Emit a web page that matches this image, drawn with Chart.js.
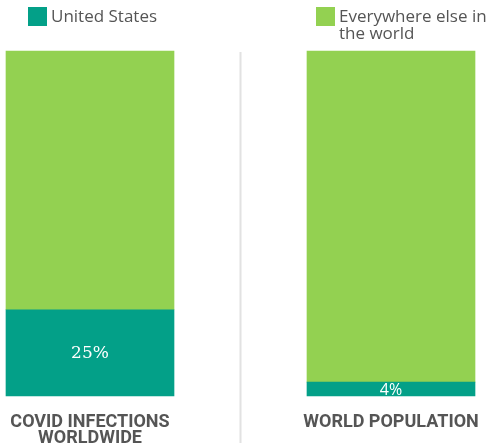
<!DOCTYPE html>
<html lang="en">
<head>
    <meta charset="UTF-8">
    <title>US share of COVID infections vs world population</title>
    <script src="https://cdn.jsdelivr.net/npm/chart.js"></script>
    <style>
        html, body { margin: 0; padding: 0; background: #fff; }
        #wrap { position: relative; width: 492px; height: 446px; }
    </style>
</head>
<body>
    <div id="wrap">
        <canvas id="chart"></canvas>
    </div>

    <script>
    // categories and shares (percent)
    const categories = [['COVID INFECTIONS', 'WORLDWIDE'], ['WORLD POPULATION']];
    const usShare = [25, 4];
    const restShare = [75, 96];
    const seriesNames = ['United States', ['Everywhere else in', 'the world']];

    const TEAL = '#03a088';
    const GREEN = '#93d151';
    const TEXT = '#555555';

    // legend items sit at the top, one over each column
    const topLegend = {
        id: 'topLegend',
        afterDraw(chart) {
            const ctx = chart.ctx;
            const xs = chart.scales.x;
            const items = [
                { color: TEAL, text: seriesNames[0], x: xs.getPixelForValue(0) - 62 },
                { color: GREEN, text: seriesNames[1], x: xs.getPixelForValue(1) - 75 }
            ];
            ctx.save();
            ctx.font = '17px "Open Sans"';
            ctx.textBaseline = 'middle';
            ctx.textAlign = 'left';
            items.forEach(it => {
                ctx.fillStyle = it.color;
                ctx.fillRect(it.x, 7, 19, 19);
                ctx.fillStyle = TEXT;
                const lines = Array.isArray(it.text) ? it.text : [it.text];
                lines.forEach((ln, i) => ctx.fillText(ln, it.x + 23, 17 + i * 17));
            });
            ctx.restore();
        }
    };

    // thin divider between the two columns
    const divider = {
        id: 'divider',
        beforeDatasetsDraw(chart) {
            const ctx = chart.ctx;
            const xs = chart.scales.x;
            const x = (xs.getPixelForValue(0) + xs.getPixelForValue(1)) / 2;
            ctx.save();
            ctx.strokeStyle = '#e2e2e2';
            ctx.lineWidth = 2;
            ctx.beginPath();
            ctx.moveTo(x, chart.chartArea.top + 1);
            ctx.lineTo(x, chart.height - 3);
            ctx.stroke();
            ctx.restore();
        }
    };

    // percentage label inside the US segment
    const valueLabels = {
        id: 'valueLabels',
        afterDatasetsDraw(chart) {
            const ctx = chart.ctx;
            const meta = chart.getDatasetMeta(0);
            ctx.save();
            ctx.fillStyle = '#ffffff';
            ctx.textAlign = 'center';
            ctx.textBaseline = 'middle';
            meta.data.forEach((bar, i) => {
                ctx.font = i === 0 ? '17px "DejaVu Serif"' : '16px "Open Sans"';
                const mid = (bar.y + bar.base) / 2;
                ctx.fillText(usShare[i] + '%', bar.x, mid + 1);
            });
            ctx.restore();
        }
    };

    new Chart(document.getElementById('chart'), {
        type: 'bar',
        data: {
            labels: categories,
            datasets: [
                { label: 'United States', data: usShare, backgroundColor: TEAL, barThickness: 168, clip: false },
                { label: 'Everywhere else in the world', data: restShare, backgroundColor: GREEN, barThickness: 168, clip: false }
            ]
        },
        options: {
            responsive: true,
            maintainAspectRatio: false,
            animation: false,
            layout: { padding: { top: 51, left: 90, right: 101, bottom: 0 } },
            plugins: {
                legend: { display: false },
                tooltip: { enabled: false }
            },
            scales: {
                x: {
                    stacked: true,
                    offset: false,
                    grid: { display: false, drawTicks: false },
                    border: { display: false },
                    afterFit: s => {
                        s.height = 50;
                        // labels may overhang; keep column positions fixed
                        s.paddingLeft = 0;
                        s.paddingRight = 0;
                    },
                    ticks: {
                        padding: 18,
                        maxRotation: 0,
                        autoSkip: false,
                        color: TEXT,
                        font: { family: 'Roboto', weight: 'bold', size: 18, lineHeight: 0.9 }
                    }
                },
                y: {
                    stacked: true,
                    min: 0,
                    max: 100,
                    display: false
                }
            }
        },
        plugins: [divider, valueLabels, topLegend]
    });
    </script>
</body>
</html>
